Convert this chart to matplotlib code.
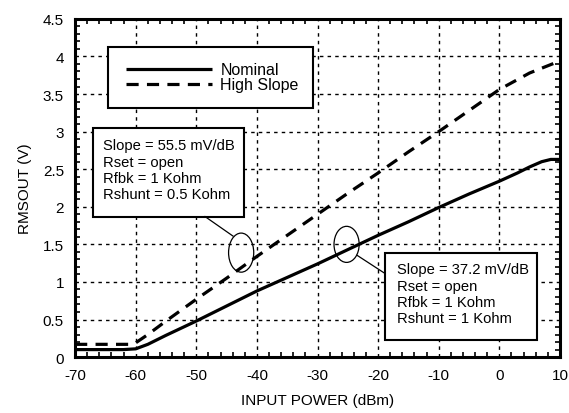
import matplotlib.pyplot as plt
from matplotlib.patches import Ellipse, Rectangle
from matplotlib.ticker import MultipleLocator

plt.rcParams['font.family'] = ['Liberation Sans', 'DejaVu Sans']
plt.rcParams['axes.unicode_minus'] = False

# Curves
x_nom = [-70, -62, -60, -58, -55, -50, -45, -40, -35, -30, -25, -20, -15, -10, -5, 0, 3, 5, 7, 8.5, 10]
y_nom = [0.1, 0.1, 0.11, 0.17, 0.29, 0.48, 0.68, 0.88, 1.06, 1.24, 1.43, 1.62, 1.80, 1.99, 2.17, 2.34, 2.45, 2.53, 2.60, 2.63, 2.63]

x_high = [-70, -60.5, -60, -58, -55, -50, -45, -40, -35, -30, -25, -20, -15, -10, -5, 0, 5, 10]
y_high = [0.17, 0.17, 0.19, 0.30, 0.48, 0.77, 1.05, 1.34, 1.62, 1.90, 2.18, 2.45, 2.73, 3.00, 3.28, 3.56, 3.78, 3.94]

note_high = "Slope = 55.5 mV/dB\nRset = open\nRfbk = 1 Kohm\nRshunt = 0.5 Kohm"
note_nom = "Slope = 37.2 mV/dB\nRset = open\nRfbk = 1 Kohm\nRshunt = 1 Kohm"

fig = plt.figure(figsize=(5.69, 4.14), dpi=100)
ax = fig.add_axes([0.132, 0.135, 0.852, 0.817])

ax.plot(x_nom, y_nom, color='black', lw=2.3, label='Nominal', solid_capstyle='butt')
ax.plot(x_high, y_high, color='black', lw=2.3, dashes=(3.8, 2.6), label='High Slope')

ax.set_xlim(-70, 10)
ax.set_ylim(0, 4.5)
ax.xaxis.set_major_locator(MultipleLocator(10))
ax.yaxis.set_major_locator(MultipleLocator(0.5))
ax.xaxis.set_minor_locator(MultipleLocator(2))
ax.yaxis.set_minor_locator(MultipleLocator(0.1))
ax.yaxis.set_major_formatter(plt.FuncFormatter(lambda v, p: f"{v:g}"))
ax.tick_params(which='both', direction='in', top=True, right=True, width=1.2, labelsize=11)
ax.tick_params(which='major', length=0, pad=8)
ax.tick_params(which='minor', length=3.5)
for s in ax.spines.values():
    s.set_linewidth(2.2)

ax.grid(True, which='major', color='black', linestyle=(0, (2.5, 3)), linewidth=1.0)

ax.set_xlabel('INPUT POWER (dBm)', fontsize=11, labelpad=8)
ax.set_ylabel('RMSOUT (V)', fontsize=11, labelpad=8)

# legend box
ax.add_patch(Rectangle((-64.56, 3.32), 33.8, 0.81, facecolor='white',
                       edgecolor='black', lw=1.5, zorder=4))
ax.legend(loc='upper left', bbox_to_anchor=(0.082, 0.905), frameon=False,
          handlelength=5.4, handletextpad=0.5, labelspacing=0.0,
          fontsize=11.5, borderpad=0.2).set_zorder(5)

# annotation boxes
ax.add_patch(Rectangle((-67.0, 1.87), 24.9, 1.18, facecolor='white',
                       edgecolor='black', lw=1.5, zorder=4))
ax.text(-65.4, 2.91, note_high, fontsize=10.6, va='top', ha='left',
        linespacing=1.2, zorder=5)
ax.add_patch(Rectangle((-18.9, 0.226), 25.1, 1.164, facecolor='white',
                       edgecolor='black', lw=1.5, zorder=4))
ax.text(-16.9, 1.26, note_nom, fontsize=10.6, va='top', ha='left',
        linespacing=1.2, zorder=5)

# ellipses and leader lines
ax.add_patch(Ellipse((-42.6, 1.39), 4.15, 0.52, fill=False, edgecolor='black', lw=0.9, zorder=5))
ax.add_patch(Ellipse((-25.2, 1.50), 4.15, 0.48, fill=False, edgecolor='black', lw=0.9, zorder=5))
ax.plot([-48.56, -43.94], [1.87, 1.61], color='black', lw=0.9, zorder=5)
ax.plot([-23.48, -19.0], [1.355, 1.12], color='black', lw=0.9, zorder=5)

fig.savefig('out.png', dpi=100)
